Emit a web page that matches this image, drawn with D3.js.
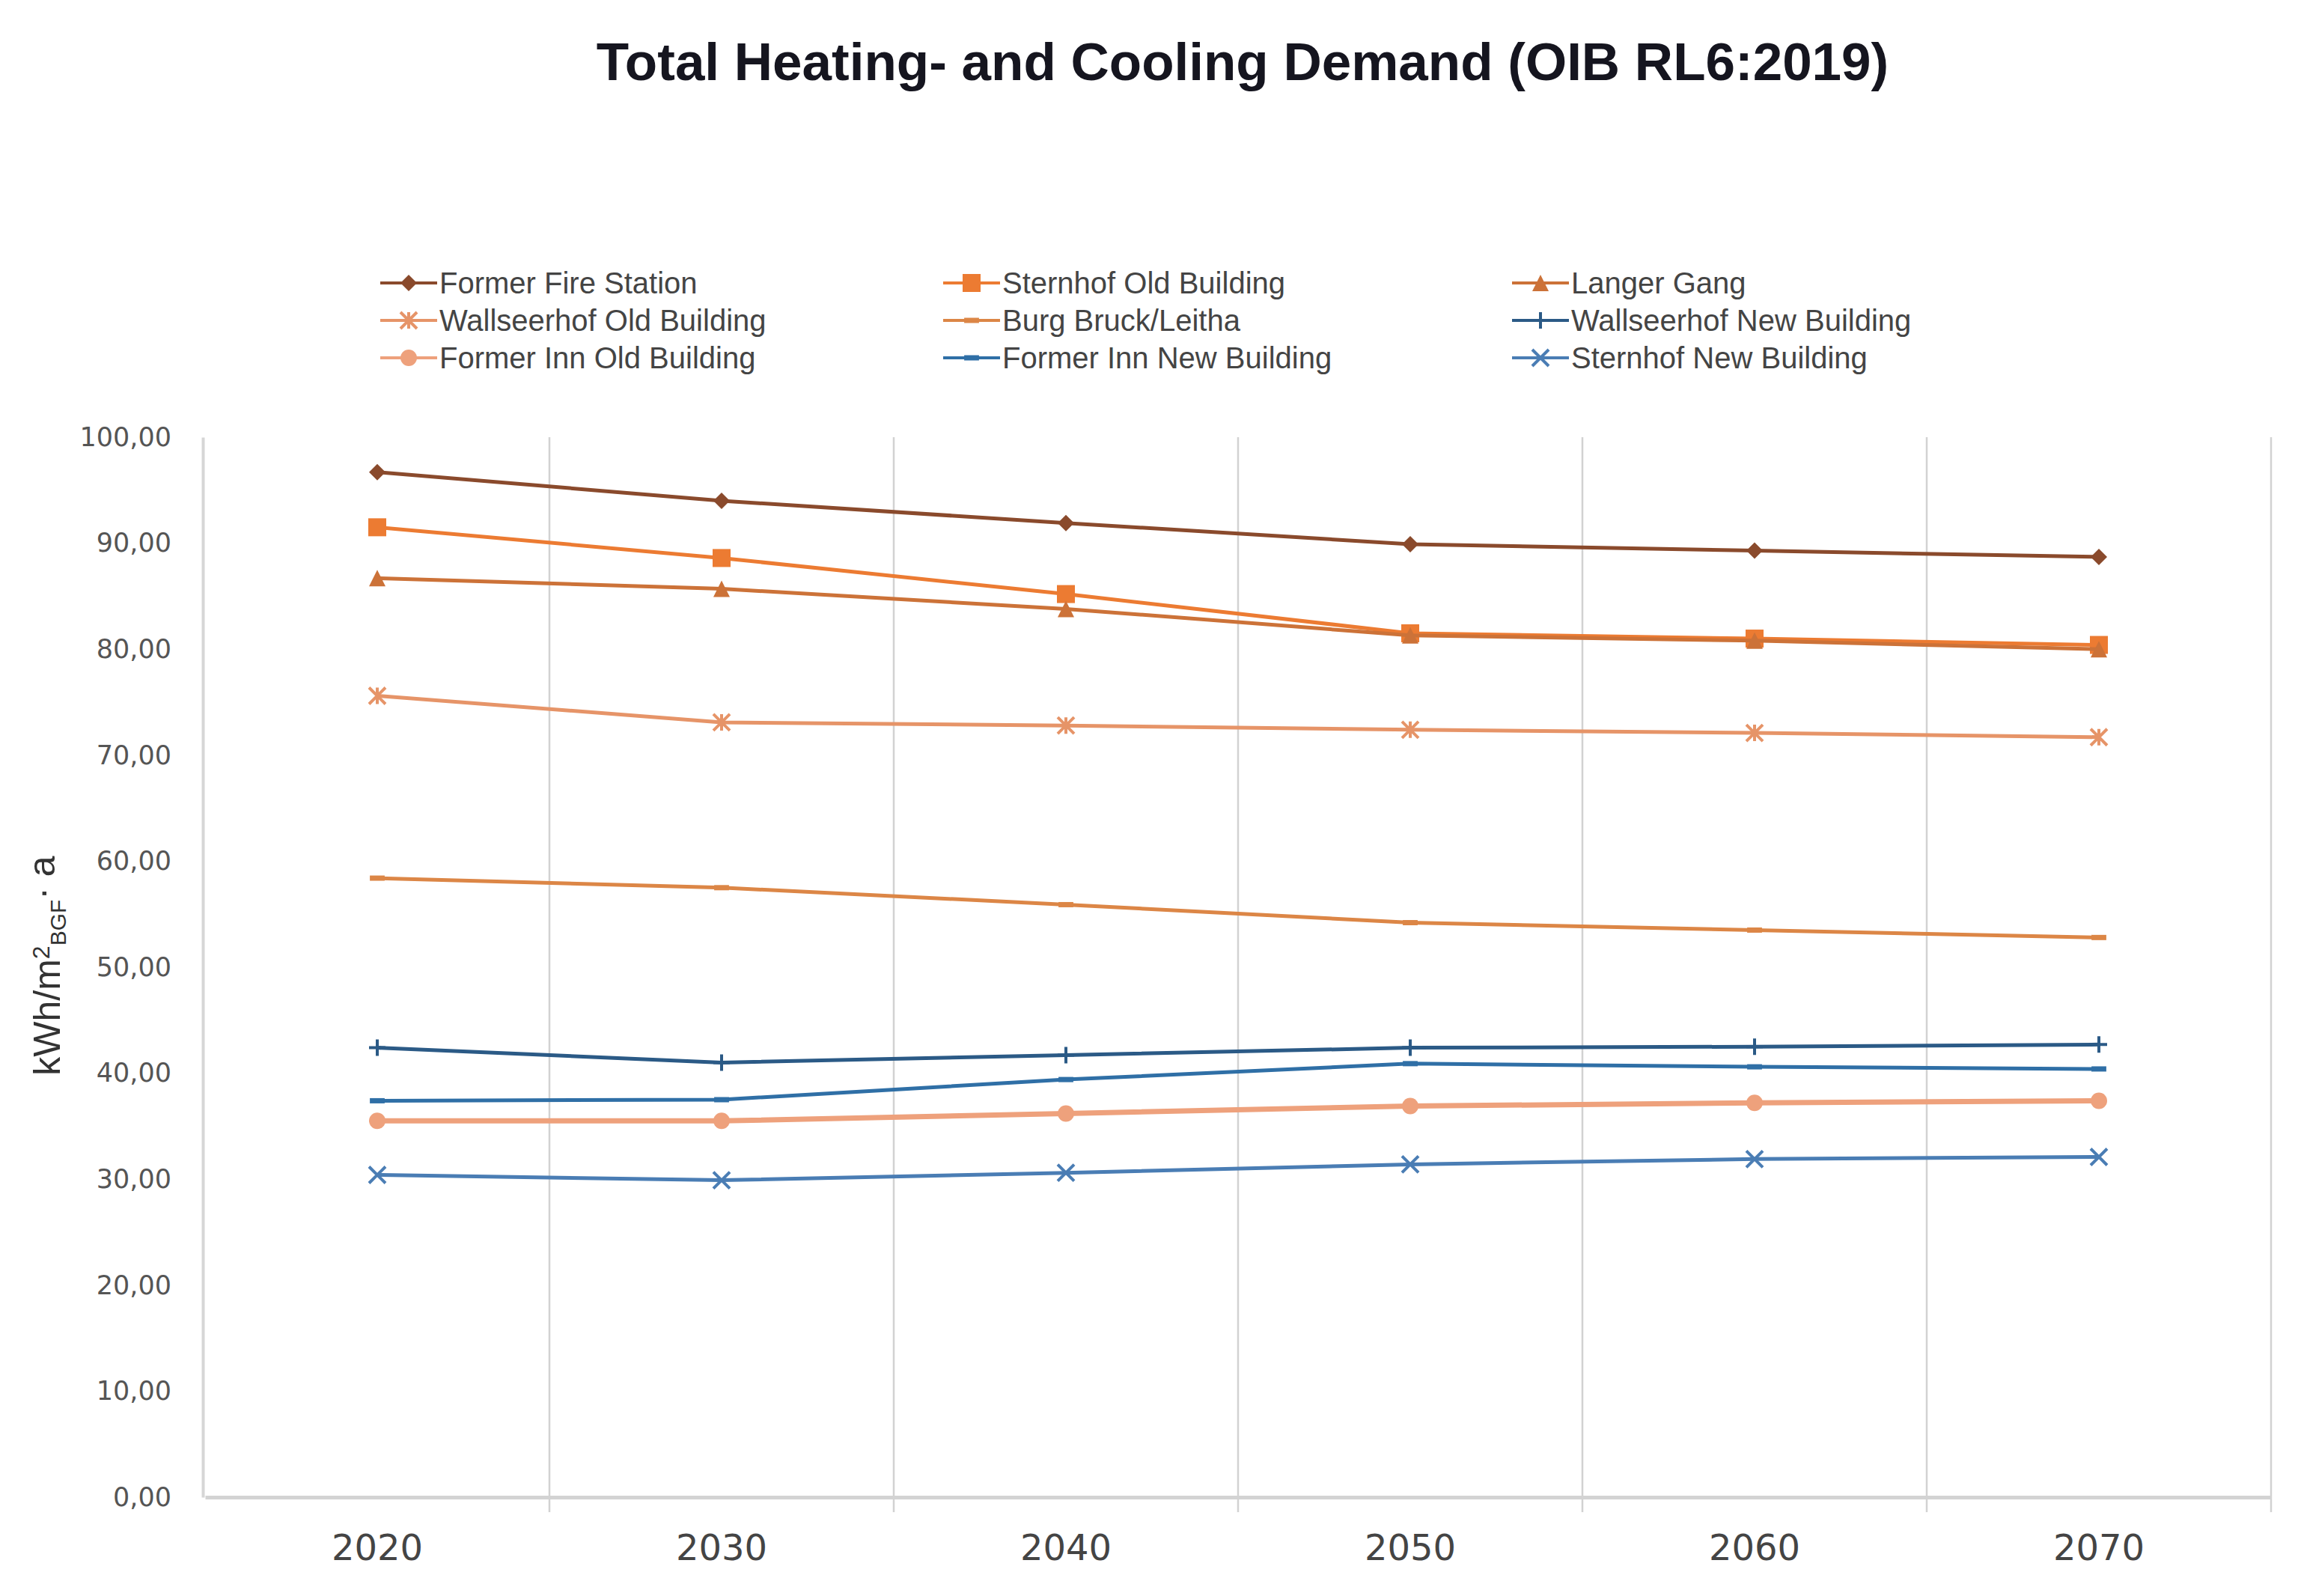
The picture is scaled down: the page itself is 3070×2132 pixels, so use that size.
<!DOCTYPE html>
<html>
<head>
<meta charset="utf-8">
<script src="https://cdn.jsdelivr.net/npm/d3@7"></script>
<style>
  body { margin: 0; background: #fff; }
  svg { display: block; }
</style>
</head>
<body>
<svg id="chart" width="3070" height="2132"></svg>
<script>
// values (kWh/m2 BGF a)
var years = ["2020", "2030", "2040", "2050", "2060", "2070"];
var seriesNames = ["Former Fire Station", "Sternhof Old Building", "Langer Gang",
                   "Wallseerhof Old Building", "Burg Bruck/Leitha", "Wallseerhof New Building",
                   "Former Inn Old Building", "Former Inn New Building", "Sternhof New Building"];
var fireStation    = [96.7, 94.0, 91.9, 89.9, 89.3, 88.7];
var sternhofOld    = [91.5, 88.6, 85.2, 81.5, 81.0, 80.4];
var langerGang     = [86.7, 85.7, 83.8, 81.3, 80.8, 80.0];
var wallseerhofOld = [75.6, 73.1, 72.8, 72.4, 72.1, 71.7];
var burgBruck      = [58.4, 57.5, 55.9, 54.2, 53.5, 52.8];
var wallseerhofNew = [42.4, 41.0, 41.7, 42.4, 42.5, 42.7];
var formerInnOld   = [35.5, 35.5, 36.2, 36.9, 37.2, 37.4];
var formerInnNew   = [37.4, 37.5, 39.4, 40.9, 40.6, 40.4];
var sternhofNew    = [30.4, 29.9, 30.6, 31.4, 31.9, 32.1];
var yTicks = [0, 10, 20, 30, 40, 50, 60, 70, 80, 90, 100];

var series = [
    { name: seriesNames[0], values: fireStation,    color: "#8a4a2c", marker: "diamond" },
    { name: seriesNames[1], values: sternhofOld,    color: "#ec7b32", marker: "square" },
    { name: seriesNames[2], values: langerGang,     color: "#cc7238", marker: "triangle" },
    { name: seriesNames[3], values: wallseerhofOld, color: "#e69468", marker: "star" },
    { name: seriesNames[4], values: burgBruck,      color: "#dc8646", marker: "dash" },
    { name: seriesNames[5], values: wallseerhofNew, color: "#2b5a86", marker: "plus" },
    { name: seriesNames[6], values: formerInnOld,   color: "#eea17c", marker: "circle" },
    { name: seriesNames[7], values: formerInnNew,   color: "#2f6fa6", marker: "dash" },
    { name: seriesNames[8], values: sternhofNew,    color: "#4a7db4", marker: "x" }
];

var svg = d3.select("#chart");
// note: "top" is taken by window.top, so plot edges get their own names
var plotLeft = 274, plotRight = 3034, plotTop = 584, plotBottom = 2000;

var x = d3.scaleBand().domain(years).range([plotLeft, plotRight]).padding(0);
var y = d3.scaleLinear().domain([0, 100]).range([plotBottom, plotTop]);

// marker shapes (Excel-like)
function markerPath(type, s) {
    var h = s / 2;
    switch (type) {
        case "diamond": return "M0," + (-h) + "L" + h + ",0L0," + h + "L" + (-h) + ",0Z";
        case "square": return "M" + (-h) + "," + (-h) + "h" + s + "v" + s + "h" + (-s) + "Z";
        case "triangle": return "M0," + (-h) + "L" + h + "," + h + "L" + (-h) + "," + h + "Z";
        case "circle": return d3.symbol(d3.symbolCircle, Math.PI * h * h)();
        default: return "";
    }
}
function strokeMarker(type, s) {
    var h = s / 2;
    if (type === "plus") return "M" + (-h) + ",0H" + h + "M0," + (-h) + "V" + h;
    if (type === "x") return "M" + (-h) + "," + (-h) + "L" + h + "," + h + "M" + h + "," + (-h) + "L" + (-h) + "," + h;
    if (type === "star") return "M" + (-h) + "," + (-h) + "L" + h + "," + h + "M" + h + "," + (-h) + "L" + (-h) + "," + h + "M0," + (-h) + "V" + h;
    if (type === "dash") return "M" + (-h * 0.9) + ",0H" + (h * 0.9);
    return null;
}
function drawMarker(g, type, color) {
    var sp = strokeMarker(type, 22);
    if (sp) {
        g.append("path").attr("d", sp).attr("fill", "none").attr("stroke", color)
            .attr("stroke-width", type === "dash" ? 7 : 4);
    } else {
        g.append("path").attr("d", markerPath(type, type === "square" ? 24 : 22)).attr("fill", color);
    }
}

// title
svg.append("text")
    .attr("x", 1660).attr("y", 107)
    .attr("text-anchor", "middle")
    .style("font-family", "'Liberation Sans', Arial, sans-serif")
    .style("font-weight", "bold")
    .style("font-size", "71px")
    .attr("fill", "#15151f")
    .text("Total Heating- and Cooling Demand (OIB RL6:2019)");

// legend
var legendCols = [508, 1260, 2020], legendRows = [378, 428, 478];
var legend = svg.append("g");
series.forEach(function(s, i) {
    var lx = legendCols[i % 3], ly = legendRows[Math.floor(i / 3)];
    var g = legend.append("g").attr("transform", "translate(" + lx + "," + ly + ")");
    g.append("line").attr("x1", 0).attr("x2", 76).attr("y1", 0).attr("y2", 0)
        .attr("stroke", s.color).attr("stroke-width", 4);
    drawMarker(g.append("g").attr("transform", "translate(38,0)"), s.marker, s.color);
    g.append("text").attr("x", 79).attr("y", 0).attr("dy", "0.35em")
        .style("font-family", "'Liberation Sans', Arial, sans-serif")
        .style("font-size", "40px")
        .attr("fill", "#444")
        .text(s.name);
});

// vertical gridlines at category borders
var borders = years.map(function(d) { return x(d) + x.bandwidth(); });
svg.append("g").selectAll("line").data(borders).enter().append("line")
    .attr("x1", function(d) { return d; }).attr("x2", function(d) { return d; })
    .attr("y1", y(100)).attr("y2", plotBottom + 20)
    .attr("stroke", "#d2d2d2").attr("stroke-width", 2.5);

// y axis
var yAxis = svg.append("g").attr("transform", "translate(" + (plotLeft - 3) + ",0)")
    .call(d3.axisLeft(y).tickValues(yTicks).tickSize(0).tickPadding(42)
        .tickFormat(function(d) { return d3.format(".2f")(d).replace(".", ","); }));
yAxis.select(".domain").attr("stroke", "#d6d6d6").attr("stroke-width", 4);
yAxis.selectAll("text")
    .style("font-family", "'DejaVu Sans', sans-serif")
    .style("font-size", "35px")
    .attr("fill", "#555");

// x axis
var xAxis = svg.append("g").attr("transform", "translate(0," + plotBottom + ")")
    .call(d3.axisBottom(x).tickSize(0).tickPadding(50));
xAxis.select(".domain").attr("stroke", "#d3d3d3").attr("stroke-width", 5);
xAxis.selectAll("text")
    .style("font-family", "'DejaVu Sans', sans-serif")
    .style("font-size", "48px")
    .attr("fill", "#444");

// y axis title
var yt = svg.append("text")
    .attr("transform", "translate(80,1290) rotate(-90)")
    .attr("text-anchor", "middle")
    .style("font-family", "'Liberation Sans', Arial, sans-serif")
    .style("font-size", "50px")
    .attr("fill", "#333");
yt.append("tspan").text("kWh/m");
yt.append("tspan").attr("dy", "-0.45em").style("font-size", "32px").text("2");
yt.append("tspan").attr("dy", "0.75em").style("font-size", "30px").text("BGF");
yt.append("tspan").attr("dy", "-0.3em").text("· a");

// lines + markers
var line = d3.line()
    .x(function(d, i) { return x(years[i]) + x.bandwidth() / 2; })
    .y(function(d) { return y(d); });

var plot = svg.append("g");
series.forEach(function(s) {
    plot.append("path").datum(s.values)
        .attr("d", line)
        .attr("fill", "none")
        .attr("stroke", s.color)
        .attr("stroke-width", s.marker === "circle" ? 7 : 5);
    s.values.forEach(function(v, i) {
        var g = plot.append("g")
            .attr("transform", "translate(" + (x(years[i]) + x.bandwidth() / 2) + "," + y(v) + ")");
        drawMarker(g, s.marker, s.color);
    });
});
</script>
</body>
</html>
